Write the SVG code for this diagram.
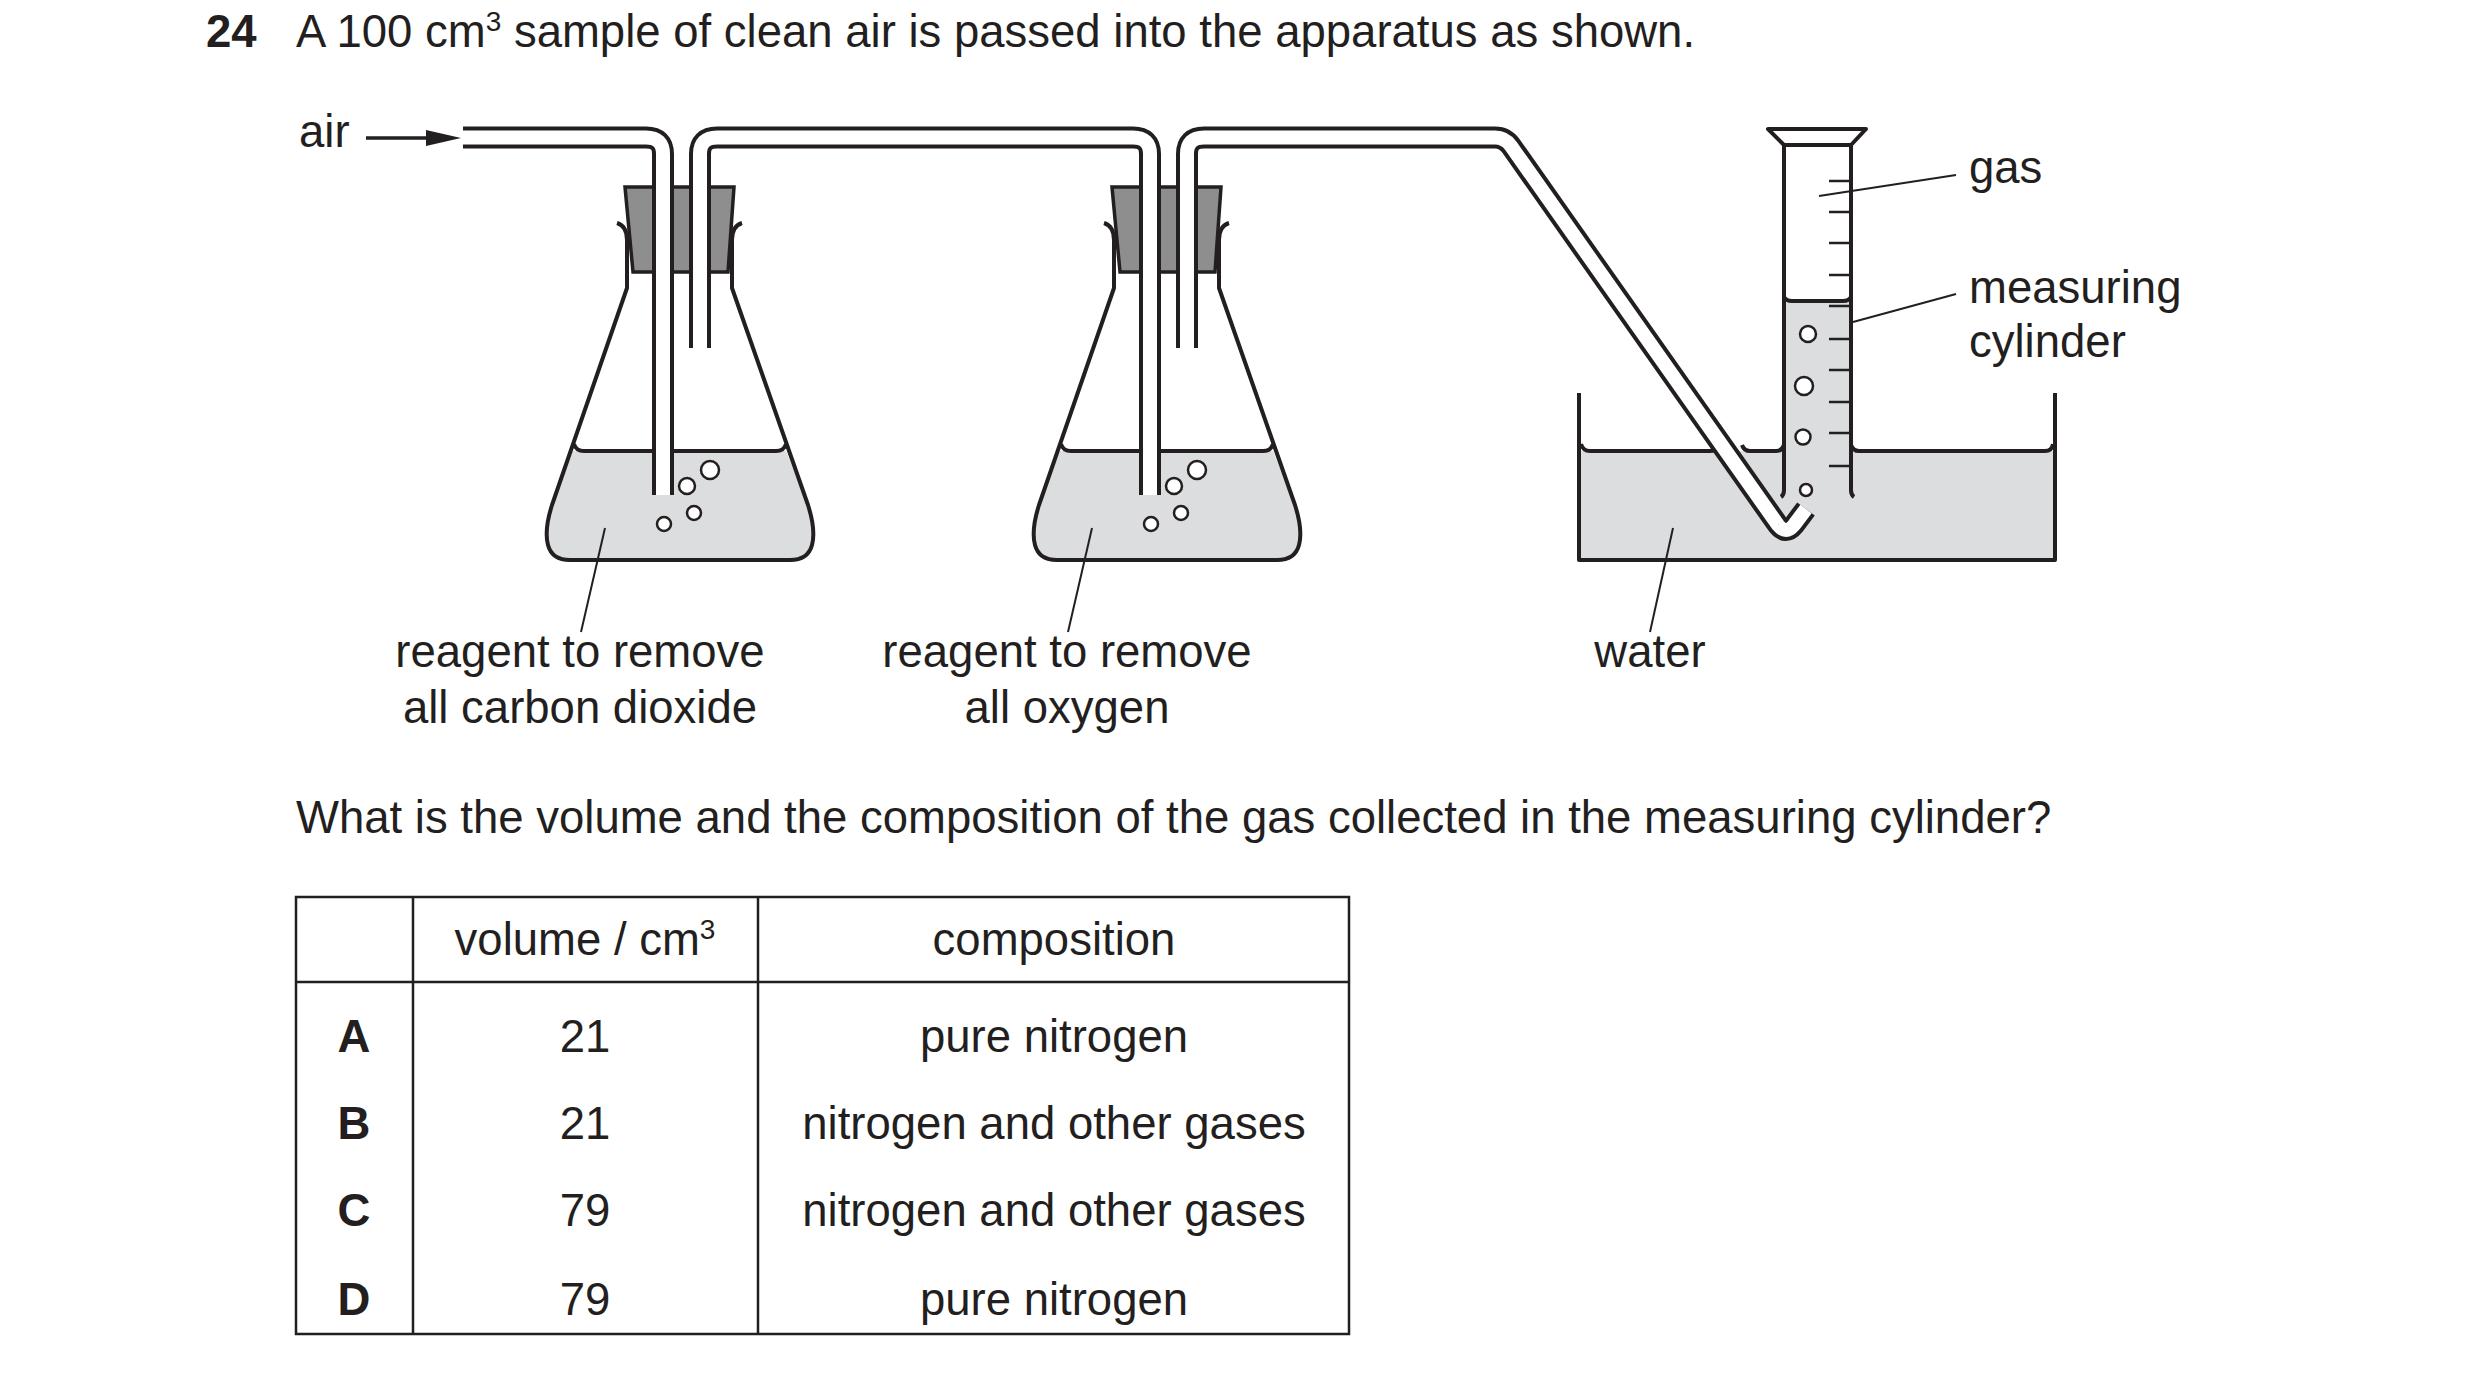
<svg xmlns="http://www.w3.org/2000/svg" width="2480" height="1375" viewBox="0 0 2480 1375">
<style>
text{font-family:"Liberation Sans",Arial,sans-serif;font-size:45.5px;fill:#231f20}
.b{font-weight:bold}
.o{fill:none;stroke:#231f20;stroke-width:4;stroke-linejoin:round}
.liq{fill:#dcdddf}
.stp{fill:#8e8e8e;stroke:#231f20;stroke-width:3.5}
.tb{fill:none;stroke:#231f20;stroke-width:22;stroke-linejoin:round}
.tw{fill:none;stroke:#fff;stroke-width:14;stroke-linejoin:round}
.bub{fill:#fff;stroke:#231f20;stroke-width:2.5}
.ld{stroke:#231f20;stroke-width:2}
.tk{stroke:#231f20;stroke-width:2.5}
</style>
<defs>
<g id="flask">
<path class="liq" d="M573,451 H786 L808,505 Q816,530 812,545 Q808,560 790,560 H570 Q552,560 548,545 Q544,530 552,505 Z"/>
<path class="o" d="M574,444 Q576,451 584,451 H776 Q784,451 786,444"/>
<path class="o" d="M617,223 Q627,226 627,240 V288 L552,505 Q544,530 548,545 Q552,560 570,560 H790 Q808,560 812,545 Q816,530 808,505 L732,288 V240 Q732,226 742,223"/>
<polygon class="stp" points="625,187 734,187 728,272 633,272"/>
</g>
<g id="bubbles">
<circle class="bub" cx="710" cy="470" r="9"/>
<circle class="bub" cx="687" cy="486" r="8"/>
<circle class="bub" cx="694" cy="513" r="7"/>
<circle class="bub" cx="664" cy="524" r="7"/>
</g>
</defs>
<text x="206" y="47" class="b">24</text>
<text x="296" y="47">A 100 cm<tspan dy="-16" font-size="28">3</tspan><tspan dy="16"> sample of clean air is passed into the apparatus as shown.</tspan></text>

<g id="flask1"><use href="#flask"/></g>
<g id="flask2" transform="translate(487,0)"><use href="#flask"/></g>

<g id="trough">
<rect class="liq" x="1579" y="451" width="476" height="109"/>
<rect class="liq" x="1784" y="301" width="67" height="194"/>
<path class="o" d="M1579,393 V560 H2055 V393" stroke-width="4.5"/>
<path class="o" d="M1581,444 Q1583,451 1590,451 H1710 Q1716,451 1718,445"/>
<path class="o" d="M1742,445 Q1744,451 1750,451 H1776 Q1782,451 1784,445"/>
<path class="o" d="M1851,445 Q1853,451 1859,451 H2045 Q2052,451 2053,444"/>
</g>
<g id="cylinder">
<path class="o" d="M1768,129 H1866 L1851,145 H1784 Z" fill="#fff"/>
<path class="o" d="M1784,145 V490 Q1784,495 1781,497"/>
<path class="o" d="M1851,145 V490 Q1851,495 1854,497"/>
<path class="o" d="M1784,297 Q1786,301 1792,301 H1843 Q1849,301 1851,297"/>
<g class="tk">
<line x1="1829" y1="181" x2="1851" y2="181"/><line x1="1829" y1="212" x2="1851" y2="212"/>
<line x1="1829" y1="243" x2="1851" y2="243"/><line x1="1829" y1="275" x2="1851" y2="275"/>
<line x1="1829" y1="306" x2="1851" y2="306"/><line x1="1829" y1="339" x2="1851" y2="339"/>
<line x1="1829" y1="370" x2="1851" y2="370"/><line x1="1829" y1="402" x2="1851" y2="402"/>
<line x1="1829" y1="433" x2="1851" y2="433"/><line x1="1829" y1="466" x2="1851" y2="466"/>
</g>
<circle class="bub" cx="1808" cy="334" r="8"/>
<circle class="bub" cx="1804" cy="386" r="9"/>
<circle class="bub" cx="1803" cy="437" r="7.5"/>
<circle class="bub" cx="1806" cy="490" r="6"/>
</g>

<g id="connectors">
<path class="tb" d="M463,137.5 H646 Q663,137.5 663,154 V495"/>
<path class="tw" d="M463,137.5 H646 Q663,137.5 663,154 V495"/>
<path class="tb" d="M700,348 V154 Q700,137.5 717,137.5 H1133 Q1150,137.5 1150,154 V495"/>
<path class="tw" d="M700,348 V154 Q700,137.5 717,137.5 H1133 Q1150,137.5 1150,154 V495"/>
<path class="tb" d="M1187,348 V154 Q1187,137.5 1204,137.5 H1495 Q1505,137.5 1511,146 L1778,525 Q1786,535 1794,525 L1806,509"/>
<path class="tw" d="M1187,348 V154 Q1187,137.5 1204,137.5 H1495 Q1505,137.5 1511,146 L1778,525 Q1786,535 1794,525 L1806,509"/>
<line x1="366" y1="138" x2="430" y2="138" stroke="#231f20" stroke-width="3.5"/>
<polygon points="426,130 461,138 426,146" fill="#231f20"/>
<line class="ld" x1="605" y1="528" x2="581" y2="632"/>
<line class="ld" x1="1092" y1="528" x2="1068" y2="632"/>
<line class="ld" x1="1673" y1="528" x2="1650" y2="632"/>
<line class="ld" x1="1819" y1="196" x2="1956" y2="175"/>
<line class="ld" x1="1853" y1="322" x2="1956" y2="294"/>
</g>
<use href="#bubbles"/>
<use href="#bubbles" transform="translate(487,0)"/>

<text x="299" y="147">air</text>
<text x="1969" y="183">gas</text>
<text x="1969" y="303">measuring</text>
<text x="1969" y="357">cylinder</text>
<g text-anchor="middle">
<text x="580" y="667">reagent to remove</text>
<text x="580" y="723">all carbon dioxide</text>
<text x="1067" y="667">reagent to remove</text>
<text x="1067" y="723">all oxygen</text>
<text x="1650" y="667">water</text>
</g>
<text x="296" y="833">What is the volume and the composition of the gas collected in the measuring cylinder?</text>

<g id="table">
<rect x="296" y="897" width="1053" height="437" fill="none" stroke="#231f20" stroke-width="2.5"/>
<line x1="296" y1="982" x2="1349" y2="982" stroke="#231f20" stroke-width="2.5"/>
<line x1="413" y1="897" x2="413" y2="1334" stroke="#231f20" stroke-width="2.5"/>
<line x1="758" y1="897" x2="758" y2="1334" stroke="#231f20" stroke-width="2.5"/>
<g text-anchor="middle">
<text x="585" y="955">volume / cm<tspan dy="-16" font-size="28">3</tspan></text>
<text x="1054" y="955">composition</text>
<text x="354" y="1052" class="b">A</text><text x="585" y="1052">21</text><text x="1054" y="1052">pure nitrogen</text>
<text x="354" y="1139" class="b">B</text><text x="585" y="1139">21</text><text x="1054" y="1139">nitrogen and other gases</text>
<text x="354" y="1226" class="b">C</text><text x="585" y="1226">79</text><text x="1054" y="1226">nitrogen and other gases</text>
<text x="354" y="1315" class="b">D</text><text x="585" y="1315">79</text><text x="1054" y="1315">pure nitrogen</text>
</g>
</g>
</svg>
